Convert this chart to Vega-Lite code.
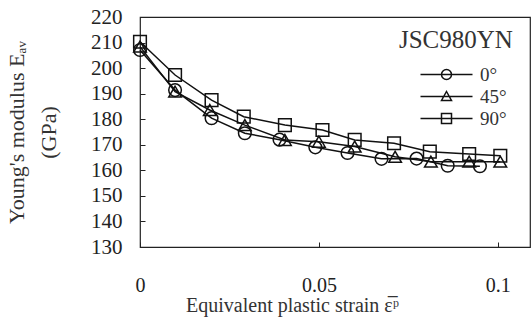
{
  "$schema": "https://vega.github.io/schema/vega-lite/v6.json",
  "width": 390,
  "height": 230,
  "autosize": {"type": "none"},
  "padding": {"left": 140, "top": 17, "right": 1, "bottom": 80},
  "background": "white",
  "config": {
    "font": "Liberation Serif",
    "axis": {"labelFont": "Liberation Serif", "titleFont": "Liberation Serif"},
    "legend": {"labelFont": "Liberation Serif"},
    "view": {"stroke": "#222", "strokeWidth": 1.2}
  },
  "data": {
    "values": [
      {"strain": 0.0, "E": 207.1, "angle": "0°"},
      {"strain": 0.0098, "E": 191.4, "angle": "0°"},
      {"strain": 0.02, "E": 180.4, "angle": "0°"},
      {"strain": 0.0293, "E": 174.5, "angle": "0°"},
      {"strain": 0.039, "E": 172.0, "angle": "0°"},
      {"strain": 0.049, "E": 169.0, "angle": "0°"},
      {"strain": 0.058, "E": 166.8, "angle": "0°"},
      {"strain": 0.0675, "E": 164.5, "angle": "0°"},
      {"strain": 0.0773, "E": 164.6, "angle": "0°"},
      {"strain": 0.086, "E": 161.8, "angle": "0°"},
      {"strain": 0.095, "E": 161.6, "angle": "0°"},
      {"strain": 0.0, "E": 208.4, "angle": "45°"},
      {"strain": 0.0098, "E": 190.8, "angle": "45°"},
      {"strain": 0.0195, "E": 183.6, "angle": "45°"},
      {"strain": 0.0293, "E": 177.7, "angle": "45°"},
      {"strain": 0.0405, "E": 171.9, "angle": "45°"},
      {"strain": 0.05, "E": 171.2, "angle": "45°"},
      {"strain": 0.06, "E": 169.3, "angle": "45°"},
      {"strain": 0.0713, "E": 165.3, "angle": "45°"},
      {"strain": 0.0813, "E": 163.4, "angle": "45°"},
      {"strain": 0.092, "E": 163.4, "angle": "45°"},
      {"strain": 0.1007, "E": 163.4, "angle": "45°"},
      {"strain": 0.0, "E": 210.3, "angle": "90°"},
      {"strain": 0.0098, "E": 197.3, "angle": "90°"},
      {"strain": 0.02, "E": 187.5, "angle": "90°"},
      {"strain": 0.029, "E": 181.0, "angle": "90°"},
      {"strain": 0.0405, "E": 177.7, "angle": "90°"},
      {"strain": 0.051, "E": 175.8, "angle": "90°"},
      {"strain": 0.06, "E": 171.9, "angle": "90°"},
      {"strain": 0.071, "E": 170.6, "angle": "90°"},
      {"strain": 0.081, "E": 167.3, "angle": "90°"},
      {"strain": 0.092, "E": 166.4, "angle": "90°"},
      {"strain": 0.1007, "E": 165.7, "angle": "90°"}
    ]
  },
  "encoding": {
    "x": {
      "field": "strain",
      "type": "quantitative",
      "scale": {"domain": [0, 0.109], "nice": false, "zero": false},
      "axis": {
        "values": [0, 0.05, 0.1],
        "format": "~g",
        "grid": false,
        "domain": false,
        "tickSize": -5,
        "tickColor": "#222",
        "labelFlush": false,
        "labelPadding": 33,
        "labelFontSize": 20,
        "labelColor": "#222",
        "labelFont": "Liberation Serif",
        "title": "Equivalent plastic strain ε̅ᵖ",
        "titleFont": "Liberation Serif",
        "titleFontSize": 20,
        "titleFontWeight": "normal",
        "titleColor": "#333",
        "titleX": 152,
        "titleY": 64,
        "titleBaseline": "alphabetic"
      }
    },
    "y": {
      "field": "E",
      "type": "quantitative",
      "scale": {"domain": [130, 220], "nice": false, "zero": false},
      "axis": {
        "values": [130, 140, 150, 160, 170, 180, 190, 200, 210, 220],
        "grid": false,
        "domain": false,
        "tickSize": -5,
        "tickColor": "#222",
        "labelPadding": 23,
        "labelFontSize": 21,
        "labelColor": "#222",
        "labelFont": "Liberation Serif",
        "title": ["Young's modulus Eₐᵥ", "(GPa)"],
        "titleFont": "Liberation Serif",
        "titleFontSize": 22,
        "titleFontWeight": "normal",
        "titleColor": "#333",
        "titleLineHeight": 32,
        "titlePadding": 30
      }
    }
  },
  "layer": [
    {
      "mark": {"type": "line", "color": "#111", "strokeWidth": 1.5},
      "encoding": {"detail": {"field": "angle"}}
    },
    {
      "mark": {"type": "point", "filled": false, "color": "#111", "strokeWidth": 1.5, "size": 160, "opacity": 1},
      "encoding": {
        "shape": {
          "field": "angle",
          "type": "nominal",
          "scale": {"domain": ["0°", "45°", "90°"], "range": ["circle", "triangle-up", "square"]},
          "legend": null
        }
      }
    },
    {
      "mark": {"type": "point", "filled": false, "color": "#111", "size": 0},
      "encoding": {
        "shape": {
          "field": "angle",
          "type": "nominal",
          "title": null,
          "scale": {
            "domain": ["0°", "45°", "90°"],
            "range": [
              "M-5.2,0H5.2M1,0A1,1 0 1,1 -1,0A1,1 0 1,1 1,0",
              "M-5.2,0H5.2M0,-1L1,0.8L-1,0.8Z",
              "M-5.2,0H5.2M-1,-1H1V1H-1Z"
            ]
          },
          "legend": {
            "orient": "none",
            "legendX": 297,
            "legendY": 48,
            "padding": 0,
            "symbolSize": 100,
            "symbolStrokeColor": "#111",
            "symbolStrokeWidth": 1.5,
            "symbolFillColor": "transparent",
            "symbolOpacity": 1,
            "labelFontSize": 19,
            "labelFont": "Liberation Serif",
            "labelColor": "#333",
            "labelOffset": 24,
            "rowPadding": 2
          }
        }
      }
    },
    {
      "transform": [{"filter": "datum.strain == 0 && datum.angle == '0°'"}],
      "mark": {"type": "text", "align": "right", "baseline": "alphabetic", "fontSize": 25, "fontWeight": "normal", "font": "Liberation Serif", "color": "#333"},
      "encoding": {
        "x": {"datum": 0.1042},
        "y": {"datum": 207.9},
        "text": {"value": "JSC980YN"}
      }
    }
  ],
  "resolve": {"scale": {"shape": "independent"}}
}
